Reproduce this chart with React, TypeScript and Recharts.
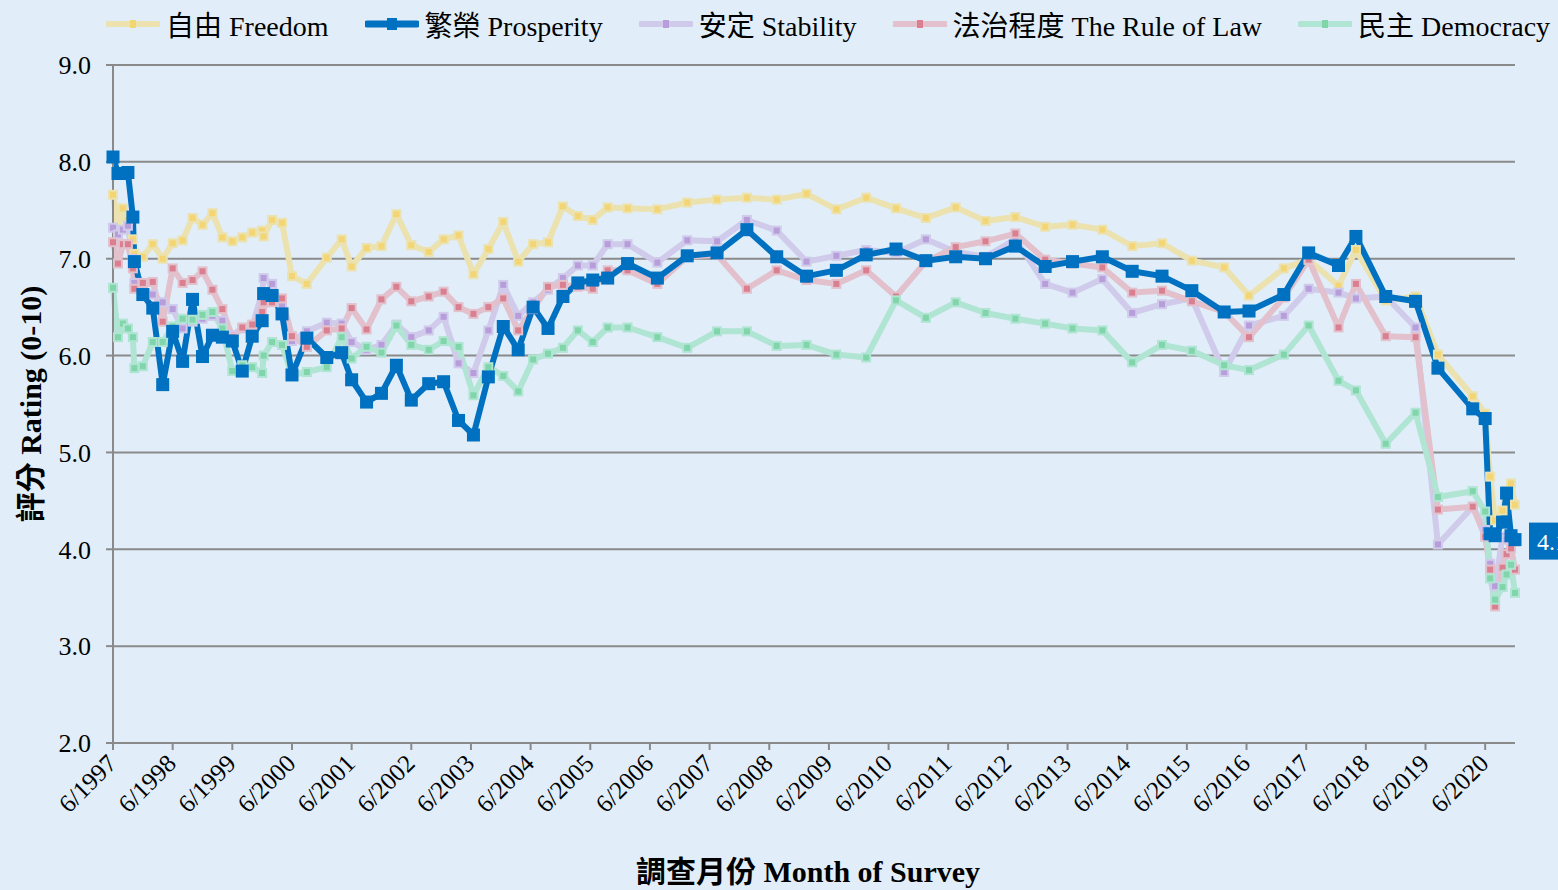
import React from "react";
import { LineChart, Line, XAxis, YAxis, CartesianGrid, Label } from "recharts";

// survey position, in months after 6/1997
const monthIdx = [
  0, 1, 2, 3, 4, 4.3, 6, 8, 10, 12, 14, 16, 18, 20, 22, 24, 26, 28, 30, 30.3,
  32, 34, 36, 39, 43, 46, 48, 51, 54, 57, 60, 63.5, 66.5, 69.5, 72.5, 75.5,
  78.5, 81.5, 84.5, 87.5, 90.5, 93.5, 96.5, 99.5, 103.5, 109.5, 115.5, 121.5,
  127.5, 133.5, 139.5, 145.5, 151.5, 157.5, 163.5, 169.5, 175.5, 181.5, 187.5,
  193, 199, 205, 211, 217, 223.5, 228.5, 235.5, 240.5, 246.5, 250, 256, 262,
  266.5, 273.5, 276, 277, 278, 279.5, 280.3, 281.2, 282,
];

const freedom = [
  7.66, 7.31, 7.52, 7.4, 7.2, 7.05, 7.02, 7.15, 7.0, 7.16, 7.19, 7.42, 7.35,
  7.47, 7.22, 7.18, 7.22, 7.27, 7.29, 7.23, 7.4, 7.37, 6.82, 6.74, 7.01, 7.2,
  6.92, 7.11, 7.13, 7.46, 7.14, 7.07, 7.2, 7.24, 6.84, 7.1, 7.38, 6.97, 7.15,
  7.17, 7.54, 7.44, 7.4, 7.53, 7.52, 7.51, 7.58, 7.61, 7.63, 7.61, 7.67, 7.51,
  7.63, 7.52, 7.42, 7.53, 7.39, 7.43, 7.33, 7.35, 7.3, 7.13, 7.16, 6.98, 6.91,
  6.62, 6.9, 6.99, 6.72, 7.09, 6.57, 6.61, 6.01, 5.58, 5.4, 4.75, 4.3, 4.4,
  4.6, 4.68, 4.46,
];

const prosperity = [
  8.05, 7.88, 7.88, 7.89, 7.43, 6.97, 6.63, 6.49, 5.7, 6.25, 5.94, 6.58, 5.99,
  6.21, 6.19, 6.15, 5.84, 6.2, 6.36, 6.64, 6.62, 6.43, 5.8, 6.18, 5.98, 6.03,
  5.75, 5.52, 5.61, 5.9, 5.54, 5.71, 5.73, 5.33, 5.18, 5.78, 6.3, 6.06, 6.5,
  6.28, 6.61, 6.75, 6.78, 6.8, 6.95, 6.8, 7.03, 7.06, 7.3, 7.02, 6.82, 6.88,
  7.04, 7.1, 6.98, 7.02, 7.0, 7.13, 6.92, 6.97, 7.02, 6.87, 6.82, 6.67, 6.45,
  6.46, 6.63, 7.06, 6.93, 7.23, 6.61, 6.56, 5.87, 5.45, 5.35, 4.16, 4.14, 4.28,
  4.58, 4.14, 4.1,
];

const stability = [
  7.32, 7.25, 7.3, 7.34, 7.0, 6.75, 6.68, 6.63, 6.55, 6.48, 6.28, 6.35, 6.38,
  6.41, 6.36, 6.21, 6.28, 6.3, 6.65, 6.8, 6.74, 6.51, 6.15, 6.25, 6.34, 6.33,
  6.14, 6.06, 6.11, 6.32, 6.19, 6.26, 6.4, 5.92, 5.82, 6.26, 6.73, 6.41, 6.55,
  6.68, 6.8, 6.93, 6.93, 7.15, 7.15, 6.96, 7.19, 7.18, 7.4, 7.29, 6.97, 7.03,
  7.09, 7.06, 7.2, 7.07, 7.02, 7.2, 6.74, 6.65, 6.79, 6.44, 6.53, 6.59, 5.83,
  6.31, 6.41, 6.69, 6.65, 6.59, 6.61, 6.29, 4.05, 4.44, 4.2, 3.85, 3.62, 4.13,
  4.1, 4.1, 4.08,
];

const ruleOfLaw = [
  7.17, 6.95, 7.15, 7.15, 6.9, 6.69, 6.75, 6.76, 6.35, 6.9, 6.75, 6.78, 6.87,
  6.68, 6.48, 6.19, 6.29, 6.32, 6.45, 6.55, 6.55, 6.59, 6.2, 6.09, 6.26, 6.28,
  6.49, 6.27, 6.58, 6.71, 6.56, 6.61, 6.66, 6.5, 6.43, 6.5, 6.59, 6.26, 6.48,
  6.71, 6.73, 6.71, 6.69, 6.88, 6.88, 6.74, 7.02, 7.04, 6.69, 6.88, 6.78, 6.74,
  6.88, 6.61, 6.97, 7.12, 7.18, 7.26, 6.99, 6.95, 6.91, 6.65, 6.67, 6.56, 6.45,
  6.19, 6.6, 6.99, 6.29, 6.74, 6.2, 6.19, 4.41, 4.44, 4.13, 3.79, 3.41, 3.81,
  3.95, 4.01, 3.79,
];

const democracy = [
  6.7, 6.19, 6.33, 6.28, 6.19, 5.87, 5.89, 6.14, 6.14, 6.3, 6.38, 6.37, 6.42,
  6.45, 6.28, 5.84, 5.9, 5.88, 5.82, 6.0, 6.14, 6.11, 5.8, 5.83, 5.88, 6.19,
  5.97, 6.09, 6.03, 6.31, 6.11, 6.06, 6.15, 6.09, 5.59, 5.88, 5.79, 5.63, 5.96,
  6.02, 6.08, 6.26, 6.14, 6.29, 6.29, 6.19, 6.08, 6.25, 6.25, 6.1, 6.11, 6.01,
  5.98, 6.57, 6.39, 6.55, 6.44, 6.38, 6.33, 6.28, 6.26, 5.93, 6.11, 6.05, 5.9,
  5.85, 6.01, 6.31, 5.74, 5.64, 5.09, 5.41, 4.54, 4.6, 4.39, 3.7, 3.48, 3.61,
  3.74, 3.84, 3.55,
];

const xTicks = [
  0, 12, 24, 36, 48, 60, 72, 84, 96, 108, 120, 132, 144, 156, 168, 180, 192,
  204, 216, 228, 240, 252, 264, 276,
];
const yTicks = [2, 3, 4, 5, 6, 7, 8, 9];

const data = monthIdx.map((m, i) => ({
  m,
  freedom: freedom[i],
  prosperity: prosperity[i],
  stability: stability[i],
  ruleOfLaw: ruleOfLaw[i],
  democracy: democracy[i],
}));

const FONT = "'Liberation Serif', 'Noto Sans CJK TC', serif";
const GRID = "#8a8a8a";
const BLUE = "#0070C0";

const series = [
  { key: "freedom", name: "自由 Freedom", line: "#EBE2B0", dot: "#F3D574", w: 6, size: 8 },
  { key: "stability", name: "安定 Stability", line: "#D0CAEB", dot: "#B79EDB", w: 6, size: 8 },
  { key: "ruleOfLaw", name: "法治程度 The Rule of Law", line: "#E2C0CC", dot: "#D97F90", w: 6, size: 8 },
  { key: "democracy", name: "民主 Democracy", line: "#B0E4D3", dot: "#80D5AA", w: 6, size: 8 },
  { key: "prosperity", name: "繁榮 Prosperity", line: BLUE, dot: BLUE, w: 6, size: 13 },
];
const legendOrder = ["freedom", "prosperity", "stability", "ruleOfLaw", "democracy"];

const squareDot = (fill: string, edge: string, size: number) => (props: any) => {
  const { cx, cy, index } = props;
  if (cx == null || cy == null) return <g key={index} />;
  return (
    <rect
      key={index}
      x={cx - size / 2}
      y={cy - size / 2}
      width={size}
      height={size}
      fill={fill}
      stroke={edge}
      strokeWidth={fill === edge ? 0 : 2}
    />
  );
};

const XTick = (props: any) => {
  const { x, y, payload } = props;
  const px = x + 5;
  const py = y + 13;
  return (
    <text
      x={px}
      y={py}
      transform={`rotate(-45 ${px} ${py})`}
      textAnchor="end"
      fontSize={25}
      fontFamily={FONT}
      fill="#000"
    >
      {`6/${1997 + payload.value / 12}`}
    </text>
  );
};

const lastLabel = (props: any) => {
  const { x, y, index, value } = props;
  if (index !== monthIdx.length - 1) return null;
  return (
    <g>
      <rect x={x + 14} y={y - 17} width={50} height={37} fill={BLUE} />
      <text x={x + 22} y={y + 10} fontSize={24} fontFamily={FONT} fill="#fff">
        {Number(value).toFixed(1)}
      </text>
    </g>
  );
};

const LegendIcon = ({ s }: { s: (typeof series)[number] }) => {
  const blue = s.key === "prosperity";
  return (
    <svg width={54} height={14} style={{ display: "block" }}>
      <line x1={2} y1={7} x2={52} y2={7} stroke={s.line} strokeWidth={blue ? 7 : 6} strokeLinecap="round" />
      <rect
        x={blue ? 22 : 24}
        y={blue ? 1 : 3}
        width={blue ? 10 : 6}
        height={blue ? 12 : 8}
        fill={s.dot}
      />
    </svg>
  );
};

export default function App() {
  return (
    <div
      style={{
        position: "absolute",
        left: 0,
        top: 0,
        width: 1558,
        height: 890,
        background: "#E1EEF9",
        fontFamily: FONT,
        overflow: "hidden",
      }}
    >
      <div
        style={{
          position: "absolute",
          left: 106,
          top: 4,
          display: "flex",
          alignItems: "center",
          gap: 36,
          fontSize: 28,
          whiteSpace: "nowrap",
          color: "#000",
        }}
      >
        {legendOrder.map((k) => {
          const s = series.find((d) => d.key === k)!;
          return (
            <div key={k} style={{ display: "flex", alignItems: "center", gap: 6 }}>
              <LegendIcon s={s} />
              <span>{s.name}</span>
            </div>
          );
        })}
      </div>
      <LineChart
        width={1558}
        height={890}
        data={data}
        margin={{ top: 65, right: 43, bottom: 0, left: 0 }}
        style={{ position: "absolute", left: 0, top: 0 }}
      >
        <CartesianGrid vertical={false} stroke={GRID} strokeWidth={2} />
        <XAxis
          dataKey="m"
          type="number"
          domain={[0, 282]}
          ticks={xTicks}
          interval={0}
          height={147}
          tick={<XTick />}
          tickSize={7}
          tickLine={{ stroke: GRID, strokeWidth: 2 }}
          axisLine={{ stroke: GRID, strokeWidth: 2 }}
        >
          <Label
            content={() => (
              <text
                x={808}
                y={882}
                textAnchor="middle"
                fontSize={30}
                fontWeight={700}
                fontFamily={FONT}
                fill="#000"
              >
                調查月份 Month of Survey
              </text>
            )}
          />
        </XAxis>
        <YAxis
          type="number"
          domain={[2, 9]}
          ticks={yTicks}
          interval={0}
          width={113}
          tickFormatter={(v: number) => v.toFixed(1)}
          tick={{ fontSize: 26, fontFamily: FONT, fill: "#000" }}
          tickSize={7}
          tickMargin={15}
          tickLine={{ stroke: GRID, strokeWidth: 2 }}
          axisLine={{ stroke: GRID, strokeWidth: 2 }}
        >
          <Label
            content={() => (
              <text
                x={30}
                y={404}
                transform="rotate(-90 30 404)"
                textAnchor="middle"
                dominantBaseline="central"
                fontSize={30}
                fontWeight={700}
                fontFamily={FONT}
                fill="#000"
              >
                評分 Rating (0-10)
              </text>
            )}
          />
        </YAxis>
        {series.map((s) => (
          <Line
            key={s.key}
            dataKey={s.key}
            name={s.name}
            type="linear"
            stroke={s.line}
            strokeWidth={s.w}
            strokeLinejoin="round"
            dot={squareDot(s.dot, s.key === "prosperity" ? s.dot : s.line, s.size)}
            activeDot={false}
            label={s.key === "prosperity" ? lastLabel : false}
            isAnimationActive={false}
          />
        ))}
      </LineChart>
    </div>
  );
}
